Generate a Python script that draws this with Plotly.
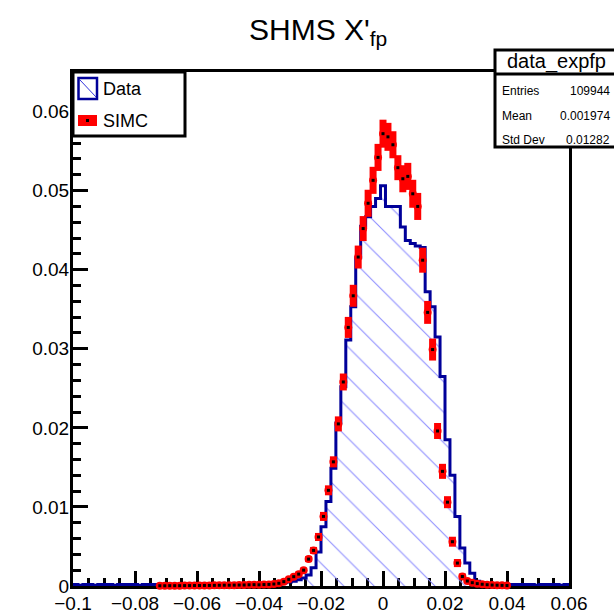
import numpy as np
import plotly.graph_objects as go

# ---------------- data ----------------
x_min, x_max, n_bins = -0.1, 0.06, 100

data_vals = [
    0.0002, 0.0001, 0.0002, 0.0002, 0.0001, 0.0002, 0.0002, 0.0002, 0.0001, 0.0002,
    0.0002, 0.0002, 0.0002, 0.0001, 0.0002, 0.0002, 0.0002, 0.0002, 0.0002, 0.0002,
    0.0002, 0.0002, 0.0002, 0.0002, 0.0002, 0.0002, 0.0002, 0.0002, 0.0002, 0.0002,
    0.0002, 0.0002, 0.0002, 0.0002, 0.0002, 0.0002, 0.0002, 0.0003, 0.0003, 0.0003,
    0.0003, 0.0003, 0.0004, 0.0005, 0.0006, 0.0008, 0.0010, 0.0014, 0.0023, 0.0043,
    0.0075, 0.0107, 0.0149, 0.0206, 0.0252, 0.0311, 0.0353, 0.0415, 0.0455, 0.0467,
    0.0480, 0.0490, 0.0506, 0.0480, 0.0480, 0.0480, 0.0454, 0.0437, 0.0433, 0.0430,
    0.0428, 0.0372, 0.0353, 0.0315, 0.0265, 0.0185, 0.0140, 0.0088, 0.0048, 0.0029,
    0.0016, 0.0006, 0.0004, 0.0003, 0.0003, 0.0002, 0.0002, 0.0002, 0.0002, 0.0002,
    0.0002, 0.0002, 0.0002, 0.0001, 0.0002, 0.0002, 0.0002, 0.0002, 0.0001, 0.0002,
]

simc_first_bin = 17
simc_vals = [
    0.00003, 0.00003, 0.00004, 0.00004, 0.00004, 0.00005, 0.00005, 0.00006, 0.00006, 0.00007,
    0.00007, 0.00008, 0.00009, 0.0001, 0.0001, 0.00011, 0.00012, 0.00013, 0.00015, 0.00017,
    0.00015, 0.00018, 0.0002, 0.00025, 0.00034, 0.00055, 0.00084, 0.00118,
    0.0015, 0.0020, 0.0034, 0.0045, 0.0062, 0.0088, 0.0121, 0.0157, 0.0205, 0.0258,
    0.0327, 0.0367, 0.0416, 0.0452, 0.0484, 0.0513, 0.0542, 0.0572, 0.0568, 0.0558,
    0.0529, 0.0515, 0.0518, 0.0496, 0.0480, 0.0412, 0.0346, 0.0299, 0.0196, 0.0145,
    0.0106, 0.0056, 0.0029, 0.0012, 0.00063, 0.00042, 0.0003, 0.00022, 0.00016, 0.00012,
    0.0001, 0.00008, 0.00006,
]
simc_errs = [
    0.00002, 0.00002, 0.00002, 0.00002, 0.00002, 0.00003, 0.00003, 0.00003, 0.00003, 0.00003,
    0.00003, 0.00003, 0.00004, 0.00004, 0.00004, 0.00004, 0.00004, 0.00005, 0.00005, 0.00005,
    0.00005, 0.00006, 0.00007, 0.00008, 0.0001, 0.00013, 0.00016, 0.0002,
    0.00032, 0.00032, 0.00038, 0.00044, 0.00051, 0.00057, 0.00063, 0.0007, 0.00095, 0.00107,
    0.00133, 0.00139, 0.00145, 0.00158, 0.00171, 0.00171, 0.00171, 0.00177, 0.00177, 0.00171,
    0.00158, 0.00171, 0.00171, 0.00177, 0.00171, 0.00158, 0.00145, 0.00139, 0.00101, 0.00095,
    0.00076, 0.00063, 0.00051, 0.00038, 0.0002, 0.00016, 0.00013, 0.0001, 0.00008, 0.00007,
    0.00006, 0.00005, 0.00004,
]

legend_labels = ["Data", "SIMC"]
stats_name = "data_expfp"
stats_labels = ["Entries", "Mean", "Std Dev"]
stats_values = ["109944", "0.001974", "0.01282"]
title_text = "SHMS X'<sub>fp</sub>"

# ---------------- derived geometry ----------------
bw = (x_max - x_min) / n_bins
edges = x_min + bw * np.arange(n_bins + 1)
centers = edges[:-1] + bw / 2
simc_centers = centers[simc_first_bin:simc_first_bin + len(simc_vals)]

step_x = [edges[0]] + list(edges[:-1]) + [edges[-1], edges[-1]]
step_y = [0] + list(data_vals) + [data_vals[-1], 0]

FONT = "Liberation Sans, Arial, Helvetica, sans-serif"
W, H = 614, 613
L, R, T, B = 73, 45, 72, 27
PW, PH = W - L - R, H - T - B

def px(xp):
    return (xp - L) / PW

def py(yp):
    return (H - B - yp) / PH

fig = go.Figure()

# Data histogram: hatched fill + dark blue outline
fig.add_trace(go.Scatter(
    x=step_x, y=step_y, mode="lines", line=dict(shape="hv", color="#000099", width=3),
    fill="tozeroy", fillcolor="rgba(0,0,0,0)",
    fillpattern=dict(shape="\\", fgcolor="#8c8cff", bgcolor="rgba(0,0,0,0)",
                     size=21.5, solidity=0.05, fillmode="replace"),
    hoverinfo="skip", showlegend=False,
))

# SIMC: red error boxes + red markers
fig.add_trace(go.Scatter(
    x=simc_centers, y=simc_vals, mode="markers",
    marker=dict(symbol="circle", size=8, color="red"),
    error_y=dict(type="data", array=simc_errs, color="red", thickness=7, width=0),
    cliponaxis=False, showlegend=False,
))
# SIMC black points
fig.add_trace(go.Scatter(
    x=simc_centers, y=simc_vals, mode="markers",
    marker=dict(symbol="square", size=3, color="black"),
    cliponaxis=False, showlegend=False,
))

axis_common = dict(
    showline=True, linecolor="black", linewidth=3, mirror=True,
    ticks="inside", ticklen=15, tickwidth=2.5, tickcolor="black",
    showgrid=False, zeroline=False,
    tickfont=dict(family=FONT, size=19, color="black"),
)
fig.update_xaxes(range=[x_min, x_max], dtick=0.02, tick0=0, ticklabelstandoff=-2,
                 layer="below traces",
                 minor=dict(ticks="inside", dtick=0.005, ticklen=8, tickwidth=2.5, tickcolor="black"),
                 **axis_common)
fig.update_yaxes(range=[0, 0.065], dtick=0.01, tick0=0, ticklabelstandoff=-3,
                 minor=dict(ticks="inside", dtick=0.002, ticklen=8, tickwidth=2.5, tickcolor="black"),
                 **axis_common)

shapes = []
annotations = []

# Legend box
shapes.append(dict(type="rect", xref="paper", yref="paper", x0=px(73), x1=px(185), y0=py(136), y1=py(72),
                   line=dict(color="black", width=3), fillcolor="white", layer="above"))
shapes.append(dict(type="rect", xref="paper", yref="paper", x0=px(78.5), x1=px(97), y0=py(99), y1=py(78),
                   line=dict(color="#000099", width=2.5), fillcolor="white"))
shapes.append(dict(type="line", xref="paper", yref="paper", x0=px(80), x1=px(96), y0=py(80), y1=py(97),
                   line=dict(color="#3333dd", width=1)))
shapes.append(dict(type="rect", xref="paper", yref="paper", x0=px(78), x1=px(97), y0=py(126), y1=py(115),
                   line=dict(width=0), fillcolor="red"))
shapes.append(dict(type="rect", xref="paper", yref="paper", x0=px(86), x1=px(89), y0=py(122), y1=py(119),
                   line=dict(width=0), fillcolor="black"))
annotations.append(dict(text=legend_labels[0], xref="paper", yref="paper", x=px(101), y=py(88.5),
                        xanchor="left", yanchor="middle", showarrow=False,
                        font=dict(family=FONT, size=18, color="black")))
annotations.append(dict(text=legend_labels[1], xref="paper", yref="paper", x=px(101), y=py(121),
                        xanchor="left", yanchor="middle", showarrow=False,
                        font=dict(family=FONT, size=18, color="black")))

# Stats box
shapes.append(dict(type="rect", xref="paper", yref="paper", x0=px(495), x1=px(625), y0=py(147), y1=py(50),
                   line=dict(color="black", width=3), fillcolor="white", layer="above"))
shapes.append(dict(type="line", xref="paper", yref="paper", x0=px(495), x1=px(625), y0=py(74), y1=py(74),
                   line=dict(color="black", width=3)))
annotations.append(dict(text=stats_name, xref="paper", yref="paper", x=px(556), y=py(61),
                        xanchor="center", yanchor="middle", showarrow=False,
                        font=dict(family=FONT, size=20, color="black")))
for i, (lab, val) in enumerate(zip(stats_labels, stats_values)):
    yy = [91.5, 116, 140][i]
    annotations.append(dict(text=lab, xref="paper", yref="paper", x=px(500), y=py(yy),
                            xanchor="left", yanchor="middle", showarrow=False,
                            font=dict(family=FONT, size=12, color="black")))
    annotations.append(dict(text=val, xref="paper", yref="paper", x=px(612), y=py(yy),
                            xanchor="right", yanchor="middle", showarrow=False,
                            font=dict(family=FONT, size=12, color="black")))

# Title
annotations.append(dict(text=title_text, xref="paper", yref="paper", x=px(247), y=py(31),
                        xanchor="left", yanchor="middle", showarrow=False,
                        font=dict(family=FONT, size=30, color="black")))

fig.update_layout(
    width=W, height=H, margin=dict(l=L, r=R, t=T, b=B, autoexpand=False),
    paper_bgcolor="white", plot_bgcolor="white",
    shapes=shapes, annotations=annotations, showlegend=False,
)

fig.write_html("out.html", config={"displayModeBar": False},
               post_script="document.body.style.margin='0';document.body.style.overflow='hidden';")
